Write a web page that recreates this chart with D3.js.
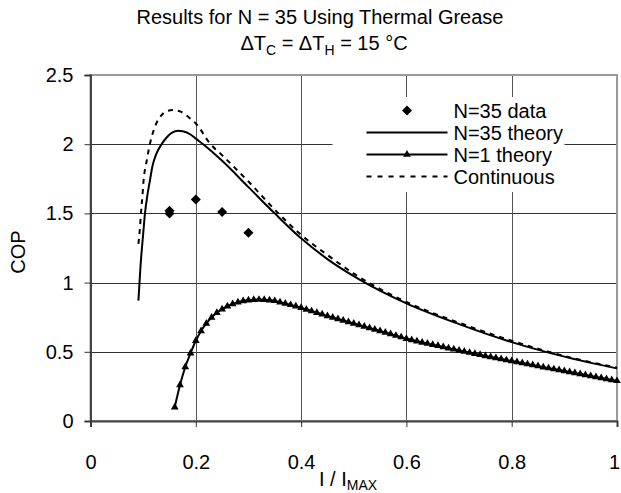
<!DOCTYPE html>
<html>
<head>
<meta charset="utf-8">
<script src="https://cdn.jsdelivr.net/npm/d3@7"></script>
<style>
  body { margin: 0; background: #fff; }
  text { font-family: "Liberation Sans", Arial, sans-serif; fill: #000; }
</style>
</head>
<body>
<svg id="chart" width="621" height="493"></svg>
<script>

// axis ticks
let xTicks = [0, 0.2, 0.4, 0.6, 0.8, 1];
let yTicks = [0, 0.5, 1, 1.5, 2, 2.5];

// measured points, N=35
let dataX = [0.15, 0.15, 0.2, 0.25, 0.3];
let dataCOP = [1.52, 1.50, 1.60, 1.51, 1.36];

// N=35 theory curve
let theoryX = [0.091, 0.095, 0.1, 0.1035, 0.108, 0.113, 0.117, 0.125, 0.135, 0.145, 0.155, 0.166, 0.175, 0.19, 0.2, 0.214, 0.25, 0.3, 0.35, 0.4, 0.45, 0.512, 0.6, 0.7, 0.8, 0.9, 1.0];
let theoryCOP = [0.87, 1.12, 1.35, 1.50, 1.63, 1.74, 1.83, 1.93, 2.0, 2.05, 2.083, 2.097, 2.093, 2.07, 2.04, 2.0, 1.88, 1.69, 1.50, 1.32, 1.17, 1.02, 0.85, 0.70, 0.57, 0.465, 0.38];

// continuous model curve
let contX = [0.091, 0.094, 0.096, 0.099, 0.1, 0.107, 0.116, 0.125, 0.135, 0.145, 0.157, 0.17, 0.189, 0.2, 0.228, 0.25, 0.3, 0.357, 0.4, 0.45, 0.5, 0.6, 0.7, 0.8, 0.9, 1.0];
let contCOP = [1.28, 1.40, 1.51, 1.645, 1.70, 1.886, 2.05, 2.15, 2.21, 2.24, 2.247, 2.237, 2.187, 2.15, 2.0, 1.92, 1.73, 1.50, 1.345, 1.20, 1.065, 0.86, 0.71, 0.58, 0.47, 0.385];

// N=1 theory curve (one marker per point)
let n1X = [0.16, 0.17, 0.18, 0.19, 0.20, 0.21, 0.22, 0.23, 0.24, 0.25, 0.26, 0.27, 0.28, 0.29, 0.30,
           0.31, 0.32, 0.33, 0.34, 0.35, 0.36, 0.37, 0.38, 0.39, 0.40, 0.41, 0.42, 0.43, 0.44, 0.45,
           0.46, 0.47, 0.48, 0.49, 0.50, 0.51, 0.52, 0.53, 0.54, 0.55, 0.56, 0.57, 0.58, 0.59, 0.60,
           0.61, 0.62, 0.63, 0.64, 0.65, 0.66, 0.67, 0.68, 0.69, 0.70, 0.71, 0.72, 0.73, 0.74, 0.75,
           0.76, 0.77, 0.78, 0.79, 0.80, 0.81, 0.82, 0.83, 0.84, 0.85, 0.86, 0.87, 0.88, 0.89, 0.90,
           0.91, 0.92, 0.93, 0.94, 0.95, 0.96, 0.97, 0.98, 0.99, 1.00];
let n1COP = [0.10, 0.26, 0.39, 0.49, 0.58, 0.65, 0.705, 0.748, 0.782, 0.808, 0.829, 0.846, 0.858, 0.867, 0.873,
             0.876, 0.877, 0.876, 0.873, 0.868, 0.858, 0.849, 0.839, 0.829, 0.818, 0.806, 0.794, 0.782, 0.771, 0.759,
             0.748, 0.737, 0.726, 0.716, 0.705, 0.694, 0.683, 0.672, 0.661, 0.650, 0.639, 0.628, 0.617, 0.606, 0.595,
             0.586, 0.577, 0.568, 0.560, 0.551, 0.543, 0.535, 0.526, 0.518, 0.510, 0.502, 0.494, 0.486, 0.478, 0.470,
             0.463, 0.455, 0.448, 0.440, 0.433, 0.426, 0.419, 0.411, 0.404, 0.397, 0.389, 0.382, 0.375, 0.368, 0.361,
             0.354, 0.347, 0.340, 0.333, 0.325, 0.318, 0.311, 0.304, 0.297, 0.290];

let legendNames = ['N=35 data', 'N=35 theory', 'N=1 theory', 'Continuous'];

let margin = {top: 75, right: 4, bottom: 72, left: 90.5};
let width = 621 - margin.left - margin.right;
let height = 493 - margin.top - margin.bottom;
let fs = '20px';

let svg = d3.select('#chart');
let g = svg.append('g')
    .attr('transform', 'translate(' + margin.left + ',' + margin.top + ')');

let x = d3.scaleLinear().domain([0, 1]).range([0, width]);
let y = d3.scaleLinear().domain([0, 2.5]).range([height, 0]);

// gridlines
g.append('g')
    .call(d3.axisLeft(y).tickValues(yTicks).tickSize(-width).tickFormat(''))
    .call(s => s.select('.domain').remove())
    .selectAll('line').attr('stroke', '#333').attr('shape-rendering', 'crispEdges');

g.append('g')
    .attr('transform', 'translate(0,' + height + ')')
    .call(d3.axisBottom(x).tickValues(xTicks).tickSize(-height).tickFormat(''))
    .call(s => s.select('.domain').remove())
    .selectAll('line').attr('stroke', '#555').attr('shape-rendering', 'crispEdges');

// plot border
g.append('rect')
    .attr('width', width).attr('height', height)
    .attr('fill', 'none').attr('stroke', '#999').attr('stroke-width', 2);

// legend box hides grid behind it
g.append('rect')
    .attr('x', 242).attr('y', 22)
    .attr('width', 232).attr('height', 95)
    .attr('fill', '#fff');

// axes
let yAxis = g.append('g')
    .call(d3.axisLeft(y).tickValues(yTicks).tickSize(6).tickPadding(11).tickFormat(d => d));
let xAxis = g.append('g')
    .attr('transform', 'translate(0,' + height + ')')
    .call(d3.axisBottom(x).tickValues(xTicks).tickSize(6).tickPadding(28).tickFormat(d => d));

[yAxis, xAxis].forEach(a => {
    a.select('.domain').attr('stroke', '#444').attr('stroke-width', 2);
    a.selectAll('line').attr('stroke', '#333');
    a.selectAll('text').attr('font-size', fs).attr('fill', '#000');
});

// keep the last x label inside the frame
xAxis.selectAll('text').filter(d => d == 1).attr('dx', -3);

// lines
let line = d3.line()
    .x(d => x(d[0]))
    .y(d => y(d[1]))
    .curve(d3.curveMonotoneX);

let contPts = contX.map((v, i) => [v, contCOP[i]]);
let theoryPts = theoryX.map((v, i) => [v, theoryCOP[i]]);
let n1Pts = n1X.map((v, i) => [v, n1COP[i]]);
let dataPts = dataX.map((v, i) => [v, dataCOP[i]]);

g.append('path')
    .datum(contPts)
    .attr('d', line)
    .attr('fill', 'none')
    .attr('stroke', '#000')
    .attr('stroke-width', 2)
    .attr('stroke-dasharray', '5,5');

g.append('path')
    .datum(theoryPts)
    .attr('d', line)
    .attr('fill', 'none')
    .attr('stroke', '#000')
    .attr('stroke-width', 2);

g.append('path')
    .datum(n1Pts)
    .attr('d', line)
    .attr('fill', 'none')
    .attr('stroke', '#000')
    .attr('stroke-width', 2);

let tri = d3.symbol().type(d3.symbolTriangle).size(26);
let dia = d3.symbol().type(d3.symbolSquare).size(50);

g.selectAll('.n1_marker')
    .data(n1Pts)
    .join('path')
    .attr('class', 'n1_marker')
    .attr('d', tri)
    .attr('transform', d => 'translate(' + x(d[0]) + ',' + y(d[1]) + ')')
    .attr('fill', '#000');

g.selectAll('.data_marker')
    .data(dataPts)
    .join('path')
    .attr('class', 'data_marker')
    .attr('d', dia)
    .attr('transform', d => 'translate(' + x(d[0]) + ',' + y(d[1]) + ') rotate(45)')
    .attr('fill', '#000');

// legend
let legend = g.append('g');
let lx0 = 276, lx1 = 357, ly = [35.5, 57.5, 79.5, 101.5];

legendNames.forEach((name, i) => {
    let row = legend.append('g').attr('transform', 'translate(0,' + ly[i] + ')');
    if (i == 0) {
        row.append('path').attr('d', dia).attr('transform', 'translate(' + ((lx0 + lx1) / 2) + ',0) rotate(45)');
    } else {
        row.append('line')
            .attr('x1', lx0).attr('x2', lx1)
            .attr('stroke', '#000').attr('stroke-width', 2)
            .attr('stroke-dasharray', i == 3 ? '5,6' : null);
        if (i == 2) {
            row.append('path').attr('d', tri).attr('transform', 'translate(' + ((lx0 + lx1) / 2) + ',0)');
        }
    }
    row.append('text')
        .attr('x', lx1 + 6).attr('y', 7)
        .attr('font-size', fs)
        .text(name);
});

// titles
svg.append('text')
    .attr('x', 320).attr('y', 24)
    .attr('text-anchor', 'middle')
    .attr('font-size', fs)
    .text('Results for N = 35 Using Thermal Grease');

let t2 = svg.append('text')
    .attr('x', 324).attr('y', 50)
    .attr('text-anchor', 'middle')
    .attr('font-size', fs);
t2.append('tspan').text('ΔT');
t2.append('tspan').attr('dy', 5).attr('font-size', '14px').text('C');
t2.append('tspan').attr('dy', -5).text(' = ΔT');
t2.append('tspan').attr('dy', 5).attr('font-size', '14px').text('H');
t2.append('tspan').attr('dy', -5).text(' = 15 °C');

svg.append('text')
    .attr('transform', 'translate(25,252) rotate(-90)')
    .attr('text-anchor', 'middle')
    .attr('font-size', fs)
    .text('COP');

let xl = svg.append('text')
    .attr('x', 348).attr('y', 486)
    .attr('text-anchor', 'middle')
    .attr('font-size', fs);
xl.append('tspan').text('I / I');
xl.append('tspan').attr('dy', 4).attr('font-size', '14px').text('MAX');

</script>
</body>
</html>
